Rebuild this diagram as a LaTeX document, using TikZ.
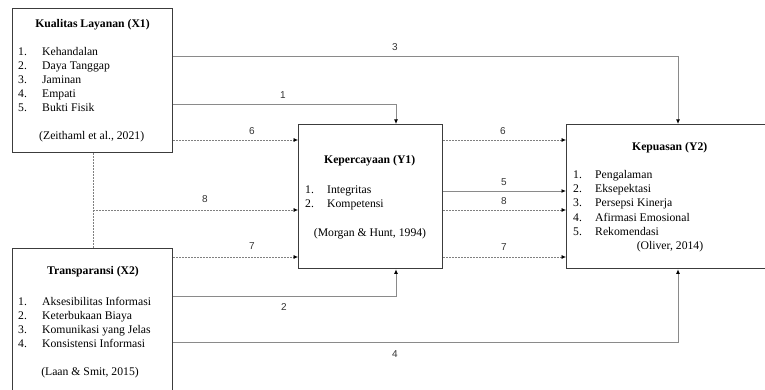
\documentclass[tikz,border=0pt]{standalone}
\usepackage{fontspec}
\setmainfont{Liberation Serif}
\newfontfamily\labelfont{Liberation Sans}
\usetikzlibrary{arrows.meta}

\definecolor{boxline}{HTML}{3C3C3C}
\definecolor{linkline}{HTML}{8A8A8A}
\definecolor{dashline}{HTML}{808080}

\begin{document}
\begin{tikzpicture}[x=1pt,y=-1pt,
  varbox/.style={draw=boxline, line width=1.3pt, inner sep=0, anchor=north west, fill=white},
  title/.style={font=\fontsize{11.7}{14}\selectfont\bfseries, inner sep=0, anchor=base},
  item/.style={font=\fontsize{11.7}{14}\selectfont, inner sep=0, anchor=base west},
  cite/.style={font=\fontsize{11.7}{14}\selectfont, inner sep=0, anchor=base},
  link/.style={draw=linkline, line width=0.9pt},
  dlink/.style={draw=dashline, line width=0.65pt, dash pattern=on 2pt off 1pt},
  tip/.style={-{Latex[length=4.5pt,width=4pt,color=black]}},
  num/.style={font=\labelfont\fontsize{10}{12}\selectfont, inner sep=0, text=black!80},
]
\useasboundingbox (0,0) rectangle (765,390);
\clip (0,0) rectangle (765,390);

% variable boxes
\node[varbox, minimum width=160pt, minimum height=144pt] (x1) at (12,8) {};
\node[varbox, minimum width=160pt, minimum height=170pt] (x2) at (12,248) {};
\node[varbox, minimum width=144pt, minimum height=144pt] (y1) at (298,124) {};
\node[varbox, minimum width=240pt, minimum height=144pt] (y2) at (566,124) {};

% routing points
\coordinate (r3) at (678,56);
\coordinate (r1) at (396,104);
\coordinate (r2) at (396,296);
\coordinate (r4) at (678,342);
\coordinate (h6) at (0,140);
\coordinate (h5) at (0,191);
\coordinate (h8) at (0,210);
\coordinate (h7) at (0,257);
\coordinate (v8) at (93,210);

% direct paths
\draw[link,tip] (x1.east |- r3) -| (y2.north -| r3);
\draw[link,tip] (x1.east |- r1) -| (y1.north -| r1);
\draw[link,tip] (x2.east |- r2) -| (y1.south -| r2);
\draw[link,tip] (x2.east |- r4) -| (y2.south -| r4);
\draw[link,tip] (y1.east |- h5) -- (y2.west |- h5);

% mediated paths
\draw[dlink,tip] (x1.east |- h6) -- (y1.west |- h6);
\draw[dlink,tip] (y1.east |- h6) -- (y2.west |- h6);
\draw[dlink] (x1.south -| v8) -- (x2.north -| v8);
\draw[dlink,tip] (v8) -- (y1.west |- v8);
\draw[dlink,tip] (y1.east |- h8) -- (y2.west |- h8);
\draw[dlink,tip] (x2.east |- h7) -- (y1.west |- h7);
\draw[dlink,tip] (y1.east |- h7) -- (y2.west |- h7);

% path numbers
\node[num] (l3) at (395,47) {3};
\node[num] (l1) at (283,95) {1};
\node[num] (l6a) at (252,131) {6};
\node[num] (l6b) at (503,131) {6};
\node[num] (l8a) at (205,199) {8};
\node[num] (l5) at (504,182) {5};
\node[num] (l8b) at (504,201) {8};
\node[num] (l7a) at (252,246) {7};
\node[num] (l7b) at (504,247) {7};
\node[num] (l2) at (284,307) {2};
\node[num] (l4) at (395,354) {4};

% Kualitas Layanan
\node[title] (x1t) at (92.5,27.5) {Kualitas Layanan (X1)};
\foreach \t [count=\i] in {Kehandalan, Daya Tanggap, Jaminan, Empati, Bukti Fisik}
  \node[item] (x1i\i) at (18,{56+13.9*(\i-1)}) {\makebox[24pt][l]{\i.}\t};
\node[cite] (x1c) at (91.7,140) {(Zeithaml et al., 2021)};

% Transparansi
\node[title] (x2t) at (93,274.7) {Transparansi (X2)};
\foreach \t [count=\i] in {Aksesibilitas Informasi, Keterbukaan Biaya, Komunikasi yang Jelas, Konsistensi Informasi}
  \node[item] (x2i\i) at (18,{305.5+14*(\i-1)}) {\makebox[24pt][l]{\i.}\t};
\node[cite] (x2c) at (90,375) {(Laan \& Smit, 2015)};

% Kepercayaan
\node[title] (y1t) at (369.7,164) {Kepercayaan (Y1)};
\foreach \t [count=\i] in {Integritas, Kompetensi}
  \node[item] (y1i\i) at (305,{193.3+14.3*(\i-1)}) {\makebox[22pt][l]{\i.}\t};
\node[cite] (y1c) at (370,236) {(Morgan \& Hunt, 1994)};

% Kepuasan
\node[title] (y2t) at (669.7,150.7) {Kepuasan (Y2)};
\foreach \t [count=\i] in {Pengalaman, Eksepektasi, Persepsi Kinerja, Afirmasi Emosional, Rekomendasi}
  \node[item] (y2i\i) at (573,{178.7+14.1*(\i-1)}) {\makebox[22pt][l]{\i.}\t};
\node[cite] (y2c) at (670,249.5) {(Oliver, 2014)};
\end{tikzpicture}
\end{document}
